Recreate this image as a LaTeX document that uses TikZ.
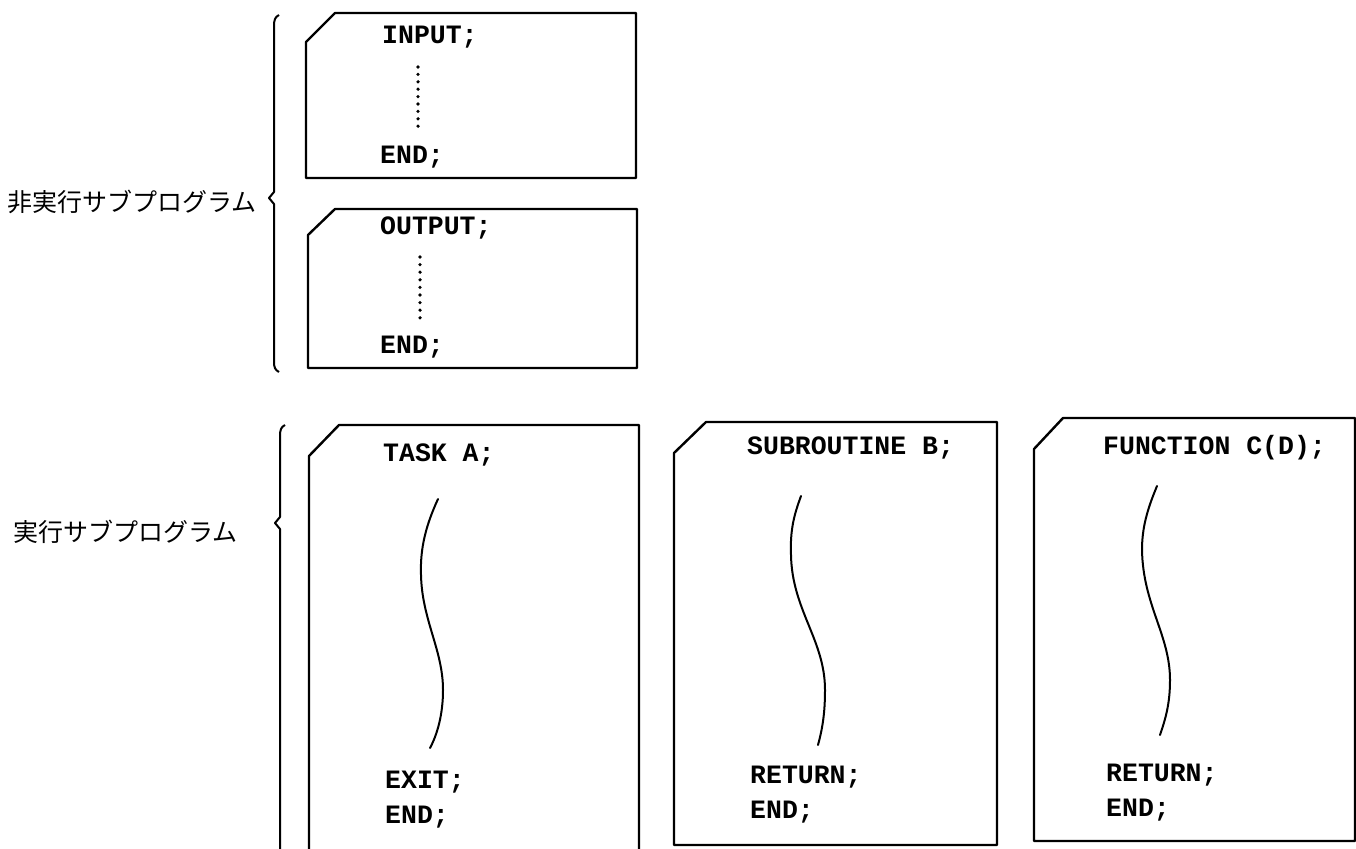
\documentclass[tikz,border=0pt]{standalone}
\usepackage{fontspec}
\setmonofont{Liberation Mono}
\newfontfamily\cjk{Noto Sans CJK JP}
\begin{document}
\begin{tikzpicture}[x=1pt,y=-1pt,
  boxline/.style={line width=2.4pt, line join=round},
  wavy/.style={line width=2pt, line cap=round},
  bracel/.style={line width=2pt, line join=round},
  code/.style={anchor=west, inner sep=0pt, font=\ttfamily\bfseries\fontsize{26.5}{26.5}\selectfont},
  jlabel/.style={anchor=west, inner sep=0pt, font=\cjk\fontsize{25}{25}\selectfont},
  dotmark/.style={fill=black, inner sep=0pt, minimum size=3.6pt, circle}]
\useasboundingbox (0,0) rectangle (1356,848);
\fill[white] (0,0) rectangle (1356,848);

% labels
\node[jlabel] (lab1) at (7,202) {非実行サブプログラム};
\node[jlabel] (lab2) at (13,532) {実行サブプログラム};

% braces
\draw[bracel] (279,15) .. controls (275,17) and (274,20) .. (274,26) -- (274,192) -- (269,198) -- (274,204) -- (274,362) .. controls (274,367) and (275,370) .. (279,372);
\draw[bracel] (285,425) .. controls (281,427) and (280,430) .. (280,436) -- (280,517) -- (275,523) -- (280,529) -- (280,860);

% INPUT box
\draw[boxline] (335,13) -- (636,13) -- (636,178) -- (306,178) -- (306,42) -- cycle;
\node[code] (in1) at (382,37) {INPUT;};
\foreach \i in {0,...,8} \node[dotmark] (din\i) at (418,{67+\i*7.4}) {};
\node[code] (in2) at (380,157) {END;};

% OUTPUT box
\draw[boxline] (335,209) -- (637,209) -- (637,368) -- (308,368) -- (308,235) -- cycle;
\node[code] (out1) at (380,228) {OUTPUT;};
\foreach \i in {0,...,8} \node[dotmark] (dout\i) at (420,{257+\i*7.6}) {};
\node[code] (out2) at (380,347) {END;};

% TASK box (open at bottom)
\draw[boxline] (309,860) -- (309,456) -- (339,425) -- (639,425) -- (639,860);
\node[code] (t1) at (383,455) {TASK A;};
\draw[wavy] (438,499) .. controls (426,525) and (420,548) .. (421,575) .. controls (422,620) and (443,650) .. (443,690) .. controls (443,715) and (437,735) .. (430,748);
\node[code] (t2) at (385,782) {EXIT;};
\node[code] (t3) at (385,817) {END;};

% SUBROUTINE box
\draw[boxline] (706,422) -- (997,422) -- (997,845) -- (674,845) -- (674,453) -- cycle;
\node[code] (s1) at (747,448) {SUBROUTINE B;};
\draw[wavy] (801,496) .. controls (794,515) and (790,530) .. (791,555) .. controls (792,610) and (825,640) .. (825,690) .. controls (825,715) and (822,730) .. (818,745);
\node[code] (s2) at (750,777) {RETURN;};
\node[code] (s3) at (750,812) {END;};

% FUNCTION box
\draw[boxline] (1063,418) -- (1355,418) -- (1355,841) -- (1034,841) -- (1034,449) -- cycle;
\node[code] (f1) at (1103,448) {FUNCTION C(D);};
\draw[wavy] (1157,486) .. controls (1147,510) and (1142,528) .. (1142,550) .. controls (1143,605) and (1170,635) .. (1170,680) .. controls (1170,705) and (1165,720) .. (1160,735);
\node[code] (f2) at (1106,775) {RETURN;};
\node[code] (f3) at (1106,810) {END;};
\end{tikzpicture}
\end{document}
